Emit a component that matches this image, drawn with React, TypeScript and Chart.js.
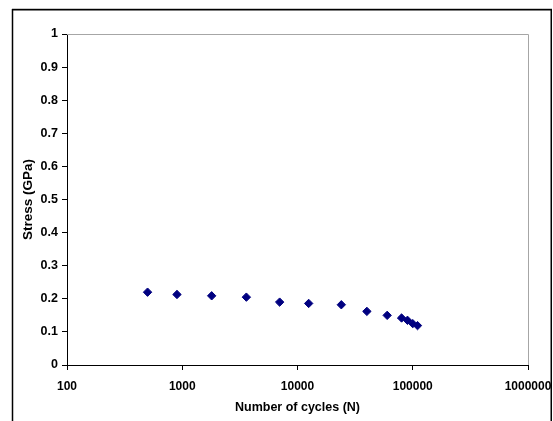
import React, { useEffect, useRef } from 'react';
import { Chart, registerables } from 'chart.js';

Chart.register(...registerables);

const cycles = [500, 900, 1800, 3600, 7000, 12500, 24000, 40000, 60000, 80000, 90000, 100000, 110000];
const stress = [0.22, 0.213, 0.209, 0.205, 0.19, 0.186, 0.182, 0.162, 0.15, 0.142, 0.135, 0.125, 0.119];
const xTicks = [100, 1000, 10000, 100000, 1000000];
const yTicks = [0, 0.1, 0.2, 0.3, 0.4, 0.5, 0.6, 0.7, 0.8, 0.9, 1];
const xTitle = 'Number of cycles (N)';
const yTitle = 'Stress (GPa)';

const FONT = "'Liberation Sans', Arial, sans-serif";

const framePlugin = {
  id: 'frame',
  afterDraw(chart: any) {
    const ctx = chart.ctx;
    const a = chart.chartArea;
    ctx.save();
    // plot area top/right border (gray)
    ctx.strokeStyle = '#a6a6a6';
    ctx.lineWidth = 1;
    ctx.beginPath();
    ctx.moveTo(a.left, a.top + 0.5);
    ctx.lineTo(a.right + 0.5, a.top + 0.5);
    ctx.lineTo(a.right + 0.5, a.bottom);
    ctx.stroke();
    // outer frame
    ctx.strokeStyle = '#c8c8c8';
    ctx.beginPath();
    ctx.moveTo(12, 8.5);
    ctx.lineTo(552, 8.5);
    ctx.stroke();
    ctx.strokeStyle = '#000';
    ctx.lineWidth = 1.5;
    ctx.beginPath();
    ctx.moveTo(12.5, 430);
    ctx.lineTo(12.5, 9.75);
    ctx.lineTo(551.25, 9.75);
    ctx.lineTo(551.25, 430);
    ctx.stroke();
    ctx.restore();
  },
};

export default function App() {
  const ref = useRef<HTMLCanvasElement>(null);

  useEffect(() => {
    if (!ref.current) return;
    const chart = new Chart(ref.current, {
      type: 'scatter',
      data: {
        datasets: [
          {
            data: cycles.map((c, i) => ({ x: c, y: stress[i] })),
            pointStyle: 'rectRot',
            pointRadius: 4.2,
            pointBackgroundColor: '#000080',
            pointBorderColor: '#000080',
            pointBorderWidth: 1,
            showLine: false,
          },
        ],
      },
      plugins: [framePlugin],
      options: {
        responsive: false,
        animation: false,
        layout: { padding: { left: 0, top: 34, right: 25, bottom: 0 } },
        plugins: {
          legend: { display: false },
          tooltip: { enabled: false },
        },
        scales: {
          x: {
            type: 'logarithmic',
            min: 100,
            max: 1000000,
            afterBuildTicks: (s: any) => {
              s.ticks = xTicks.map((v) => ({ value: v }));
            },
            afterFit: (s: any) => {
              s.height = 56;
              s.paddingLeft = 0;
              s.paddingRight = 0;
            },
            ticks: {
              color: '#000',
              font: { family: FONT, size: 12, weight: 'bold' },
              padding: 9,
              maxRotation: 0,
              autoSkip: false,
              callback: (v: any) => String(v),
            },
            grid: { drawOnChartArea: false, drawTicks: true, tickLength: 5, color: '#000' },
            border: { color: '#000', width: 1 },
            title: {
              display: true,
              text: xTitle,
              color: '#000',
              font: { family: FONT, size: 12.5, weight: 'bold' },
              padding: { top: 0, bottom: 6 },
            },
          },
          y: {
            min: 0,
            max: 1,
            afterBuildTicks: (s: any) => {
              s.ticks = yTicks.map((v) => ({ value: v }));
            },
            afterFit: (s: any) => {
              s.width = 67;
              s.paddingTop = 0;
              s.paddingBottom = 0;
            },
            ticks: {
              color: '#000',
              font: { family: FONT, size: 12.5, weight: 'bold' },
              padding: 4,
              autoSkip: false,
              callback: (v: any) => String(parseFloat(Number(v).toFixed(1))),
            },
            grid: { drawOnChartArea: false, drawTicks: true, tickLength: 5, color: '#000' },
            border: { color: '#000', width: 1 },
            title: {
              display: true,
              text: yTitle,
              color: '#000',
              font: { family: FONT, size: 13.5, weight: 'bold' },
              padding: { top: 20, bottom: 0 },
            },
          },
        },
      },
    });
    return () => chart.destroy();
  }, []);

  return (
    <div style={{ position: 'absolute', left: 0, top: 0, width: 553, height: 421, background: '#fff' }}>
      <canvas ref={ref} width={553} height={421} style={{ display: 'block' }} />
    </div>
  );
}
